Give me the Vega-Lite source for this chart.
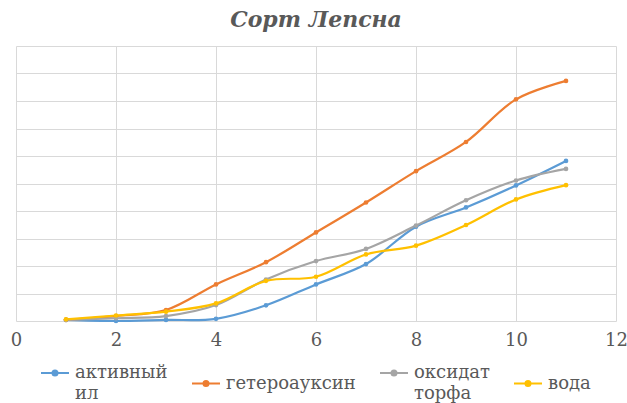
{
  "$schema": "https://vega.github.io/schema/vega-lite/v6.json",
  "autosize": "none",
  "width": 600,
  "height": 275,
  "padding": {"left": 16, "top": 46, "right": 11, "bottom": 82},
  "background": "white",
  "title": {
    "text": "Сорт Лепсна",
    "font": "DejaVu Serif",
    "fontStyle": "italic",
    "fontWeight": "bold",
    "fontSize": 22,
    "color": "#595959",
    "anchor": "middle",
    "offset": 14
  },
  "config": {
    "view": {"stroke": null},
    "axis": {"gridColor": "#d9d9d9", "gridWidth": 1}
  },
  "data": {
    "values": [
      {"x": 1, "y": 0.04, "series": "активный ил"},
      {"x": 2, "y": 0.0, "series": "активный ил"},
      {"x": 3, "y": 0.04, "series": "активный ил"},
      {"x": 4, "y": 0.08, "series": "активный ил"},
      {"x": 5, "y": 0.57, "series": "активный ил"},
      {"x": 6, "y": 1.33, "series": "активный ил"},
      {"x": 7, "y": 2.07, "series": "активный ил"},
      {"x": 8, "y": 3.43, "series": "активный ил"},
      {"x": 9, "y": 4.13, "series": "активный ил"},
      {"x": 10, "y": 4.93, "series": "активный ил"},
      {"x": 11, "y": 5.82, "series": "активный ил"},

      {"x": 1, "y": 0.04, "series": "гетероауксин"},
      {"x": 2, "y": 0.18, "series": "гетероауксин"},
      {"x": 3, "y": 0.4, "series": "гетероауксин"},
      {"x": 4, "y": 1.33, "series": "гетероауксин"},
      {"x": 5, "y": 2.14, "series": "гетероауксин"},
      {"x": 6, "y": 3.22, "series": "гетероауксин"},
      {"x": 7, "y": 4.31, "series": "гетероауксин"},
      {"x": 8, "y": 5.45, "series": "гетероауксин"},
      {"x": 9, "y": 6.51, "series": "гетероауксин"},
      {"x": 10, "y": 8.06, "series": "гетероауксин"},
      {"x": 11, "y": 8.73, "series": "гетероауксин"},

      {"x": 1, "y": 0.04, "series": "оксидат торфа"},
      {"x": 2, "y": 0.1, "series": "оксидат торфа"},
      {"x": 3, "y": 0.18, "series": "оксидат торфа"},
      {"x": 4, "y": 0.58, "series": "оксидат торфа"},
      {"x": 5, "y": 1.51, "series": "оксидат торфа"},
      {"x": 6, "y": 2.18, "series": "оксидат торфа"},
      {"x": 7, "y": 2.62, "series": "оксидат торфа"},
      {"x": 8, "y": 3.47, "series": "оксидат торфа"},
      {"x": 9, "y": 4.39, "series": "оксидат торфа"},
      {"x": 10, "y": 5.11, "series": "оксидат торфа"},
      {"x": 11, "y": 5.53, "series": "оксидат торфа"},

      {"x": 1, "y": 0.06, "series": "вода"},
      {"x": 2, "y": 0.2, "series": "вода"},
      {"x": 3, "y": 0.34, "series": "вода"},
      {"x": 4, "y": 0.64, "series": "вода"},
      {"x": 5, "y": 1.46, "series": "вода"},
      {"x": 6, "y": 1.61, "series": "вода"},
      {"x": 7, "y": 2.42, "series": "вода"},
      {"x": 8, "y": 2.74, "series": "вода"},
      {"x": 9, "y": 3.49, "series": "вода"},
      {"x": 10, "y": 4.42, "series": "вода"},
      {"x": 11, "y": 4.94, "series": "вода"}
    ]
  },
  "mark": {
    "type": "line",
    "interpolate": "catmull-rom",
    "strokeWidth": 2.2,
    "point": {"filled": true, "size": 22}
  },
  "encoding": {
    "x": {
      "field": "x",
      "type": "quantitative",
      "scale": {"domain": [0, 12], "nice": false},
      "axis": {
        "title": null,
        "values": [0, 2, 4, 6, 8, 10, 12],
        "grid": true,
        "ticks": false,
        "domain": false,
        "labelFont": "DejaVu Serif",
        "labelFontSize": 18,
        "labelColor": "#595959",
        "labelPadding": 10,
        "labelFlush": false
      }
    },
    "y": {
      "field": "y",
      "type": "quantitative",
      "scale": {"domain": [0, 10], "nice": false},
      "axis": {
        "title": null,
        "values": [0, 1, 2, 3, 4, 5, 6, 7, 8, 9, 10],
        "grid": true,
        "ticks": false,
        "domain": false,
        "labels": false
      }
    },
    "color": {
      "field": "series",
      "type": "nominal",
      "sort": null,
      "scale": {
        "domain": ["активный ил", "гетероауксин", "оксидат торфа", "вода"],
        "range": ["#5b9bd5", "#ed7d31", "#a5a5a5", "#ffc000"]
      },
      "legend": {
        "title": null,
        "orient": "none",
        "direction": "horizontal",
        "legendX": 24,
        "legendY": 312,
        "columns": 4,
        "columnPadding": 20,
        "symbolType": "M-1,0H1M-0.18,0A0.18,0.18 0 1,0 0.18,0A0.18,0.18 0 1,0 -0.18,0",
        "symbolSize": 784,
        "symbolStrokeWidth": 2,
        "labelFont": "DejaVu Serif",
        "labelFontSize": 18,
        "labelColor": "#595959",
        "labelLimit": 400,
        "labelOffset": 5,
        "labelExpr": "split(datum.label, ' ')",
        "encode": {
          "symbols": {"update": {"fill": {"scale": "color", "field": "value"}}},
          "labels": {"update": {"lineHeight": {"value": 21}}}
        }
      }
    }
  }
}
